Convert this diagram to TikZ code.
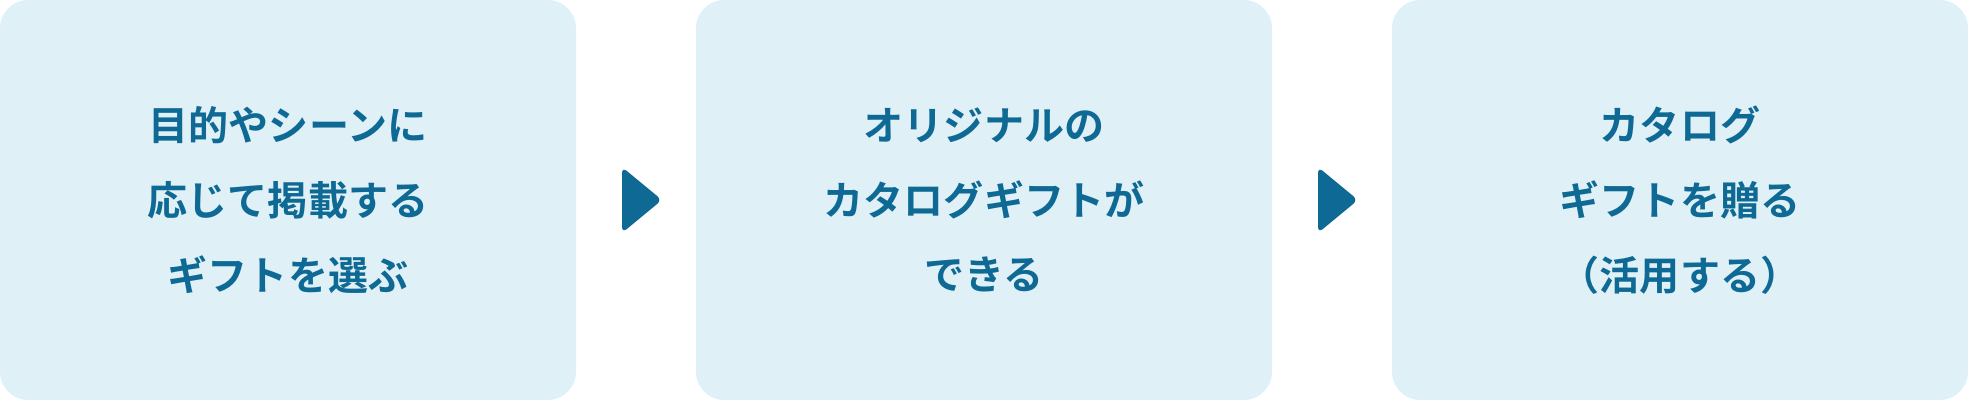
\documentclass[tikz,border=0pt]{standalone}
\usepackage{fontspec}
\newfontfamily\jpfont{Noto Sans CJK JP}[BoldFont={Noto Sans CJK JP Bold}]
\usepackage{xcolor}
\usetikzlibrary{positioning,calc}
\definecolor{boxbg}{HTML}{E0F0F7}
\definecolor{stepblue}{HTML}{0E6A94}

\tikzset{
  stepbox/.style={rectangle, rounded corners=0.56cm, fill=boxbg, draw=none,
    minimum width=11.52cm, minimum height=8cm, outer sep=0pt, inner sep=0pt,
    align=center, text=stepblue,
    font=\jpfont\bfseries\fontsize{22.8}{42.6}\selectfont},
  nextmark/.style={fill=stepblue, rounded corners=0.12cm}
}

\begin{document}
\begin{tikzpicture}[node distance=13.92cm,on grid]
  \node[stepbox] (choose) at (5.76,4) {目的やシーンに\\応じて掲載する\\ギフトを選ぶ};
  \node[stepbox] (make) [right=of choose] {オリジナルの\\カタログギフトが\\できる};
  \node[stepbox] (send) [right=of make] {カタログ\\ギフトを贈る\\（活用する）};
  % arrows between the steps
  \coordinate (m1) at ($(choose.east)!0.5!(make.west)$);
  \coordinate (m2) at ($(make.east)!0.5!(send.west)$);
  \fill[nextmark] ($(m1)+(-0.28,0.66)$) -- ($(m1)+(0.52,0)$) -- ($(m1)+(-0.28,-0.66)$) -- cycle;
  \fill[nextmark] ($(m2)+(-0.28,0.66)$) -- ($(m2)+(0.52,0)$) -- ($(m2)+(-0.28,-0.66)$) -- cycle;
\end{tikzpicture}
\end{document}
